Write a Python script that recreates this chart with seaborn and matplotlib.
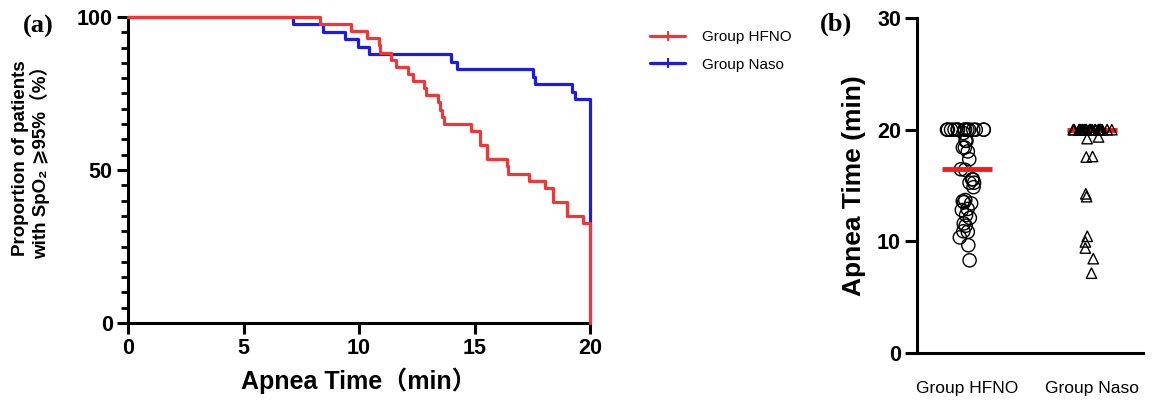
import numpy as np
import pandas as pd
import matplotlib.pyplot as plt
from matplotlib.lines import Line2D
from matplotlib.ticker import MultipleLocator
import seaborn as sns

# apnea time (min) of each patient, 20 = reached the 20 min limit
groups = ['Group HFNO', 'Group Naso']
hfno_times = [8.3, 9.65, 10.35, 10.85, 10.9, 11.4, 11.6, 12.1, 12.35, 12.8,
              12.9, 13.4, 13.5, 13.6, 13.7, 14.85, 15.25, 15.25, 15.55, 15.55,
              16.4, 16.45, 17.35, 18.05, 18.4, 18.4, 19.0, 19.0, 19.7,
              20, 20, 20, 20, 20, 20, 20, 20, 20, 20, 20, 20, 20, 20]
naso_times = [7.15, 8.45, 9.4, 9.95, 10.45, 14.0, 14.25, 17.55, 17.6, 19.2, 19.35,
              20, 20, 20, 20, 20, 20, 20, 20, 20, 20,
              20, 20, 20, 20, 20, 20, 20, 20, 20, 20,
              20, 20, 20, 20, 20, 20, 20, 20, 20, 20]
colors = {'Group HFNO': '#ee3838', 'Group Naso': '#1c1ce6'}
markers = {'Group HFNO': 'o', 'Group Naso': '^'}

sns.set_style('ticks')
plt.rcParams['font.family'] = ['Liberation Sans', 'DejaVu Sans', 'Noto Sans CJK SC']
plt.rcParams['axes.linewidth'] = 2.2
plt.rcParams['xtick.major.width'] = 2.2
plt.rcParams['ytick.major.width'] = 2.2
plt.rcParams['ytick.minor.width'] = 2.0
for k in ['text.color', 'axes.labelcolor', 'axes.edgecolor', 'xtick.color', 'ytick.color']:
    plt.rcParams[k] = 'black'

df = pd.DataFrame({
    'group': ['Group HFNO'] * len(hfno_times) + ['Group Naso'] * len(naso_times),
    'time': hfno_times + naso_times,
})


def survival(times):
    # every patient hits the end point, so this is just the share still above 95%
    t = np.sort(np.asarray(times, dtype=float))
    n = len(t)
    left = np.concatenate([[n], n - np.arange(1, n + 1)])
    return pd.DataFrame({'time': np.concatenate([[0.0], t]), 'pct': 100.0 * left / n})


W, H = 1157, 411
fig = plt.figure(figsize=(W / 100, H / 100), dpi=100)
ax1 = fig.add_axes([128 / W, 1 - 323 / H, 462 / W, 306 / H])
ax2 = fig.add_axes([917 / W, 1 - 353 / H, 226 / W, 335 / H])

# (a) curves
for g, z in [('Group Naso', 3), ('Group HFNO', 4)]:
    km = survival(df.loc[df.group == g, 'time'])
    sns.lineplot(data=km, x='time', y='pct', ax=ax1, color=colors[g], lw=2.3,
                 drawstyle='steps-post', sort=False, estimator=None,
                 clip_on=False, zorder=z)

ax1.set_xlim(0, 20)
ax1.set_ylim(0, 100)
ax1.set_xticks([0, 5, 10, 15, 20])
ax1.set_yticks([0, 50, 100])
ax1.yaxis.set_minor_locator(MultipleLocator(5))
ax1.tick_params(axis='both', which='major', length=8, labelsize=15.5, pad=3)
ax1.tick_params(axis='y', which='minor', length=5)
for lab in ax1.get_xticklabels() + ax1.get_yticklabels():
    lab.set_fontweight('bold')
ax1.set_xlabel('Apnea Time（min）', fontsize=18, fontweight='bold', labelpad=6)
ax1.set_ylabel('')
sns.despine(ax=ax1)

fig.text(31 / W, 1 - 158 / H, 'Proportion of patients\nwith SpO₂ ⩾95%（%）',
         rotation=90, ha='center', va='center', fontsize=13.5,
         fontweight='bold', multialignment='center', linespacing=1.1)

handles = [Line2D([], [], color=colors[g], lw=2.3, marker='|', markersize=7,
                  markeredgewidth=1.5) for g in groups]
fig.legend(handles, groups, loc='upper left', bbox_to_anchor=(650 / W, 1 - 30 / H),
           frameon=False, fontsize=11, handlelength=2.3, handletextpad=1.1,
           labelspacing=0.9, borderpad=0, borderaxespad=0)

# (b) dot plot
np.random.seed(3)
for g in groups:
    sub = df[df.group == g]
    for part, jit in [(sub[sub.time >= 20], 0.17), (sub[sub.time < 20], 0.06)]:
        sns.stripplot(data=part, x='group', y='time', order=groups, ax=ax2,
                      jitter=jit, marker=markers[g],
                      size=9.5 if g == 'Group HFNO' else 7.5,
                      color='black', edgecolor='black', linewidth=1.0,
                      zorder=2 if g == 'Group HFNO' else 4)
for c in ax2.collections:
    c.set_facecolor('none')

for g, z in [('Group HFNO', 5), ('Group Naso', 3)]:
    sns.pointplot(data=df[df.group == g], x='group', y='time', order=groups,
                  ax=ax2, estimator='median', errorbar=None, color='#f41c1c',
                  marker='_', markersize=36, markeredgewidth=3.5,
                  linestyle='none', zorder=z)

ax2.set_xlim(-0.4, 1.41)
ax2.set_ylim(0, 30)
ax2.set_yticks([0, 10, 20, 30])
ax2.tick_params(axis='x', length=0, labelsize=12.5, pad=20)
ax2.tick_params(axis='y', length=8.5, labelsize=15.5, pad=3)
for lab in ax2.get_yticklabels():
    lab.set_fontweight('bold')
ax2.set_xlabel('')
ax2.set_ylabel('Apnea Time (min)', fontsize=19, fontweight='bold', labelpad=8)
sns.despine(ax=ax2)

fig.text(38 / W, 1 - 26 / H, '(a)', family='Liberation Serif', fontsize=19,
         fontweight='bold', ha='center', va='center')
fig.text(836 / W, 1 - 24 / H, '(b)', family='Liberation Serif', fontsize=19,
         fontweight='bold', ha='center', va='center')

fig.savefig('out.png', dpi=100)
